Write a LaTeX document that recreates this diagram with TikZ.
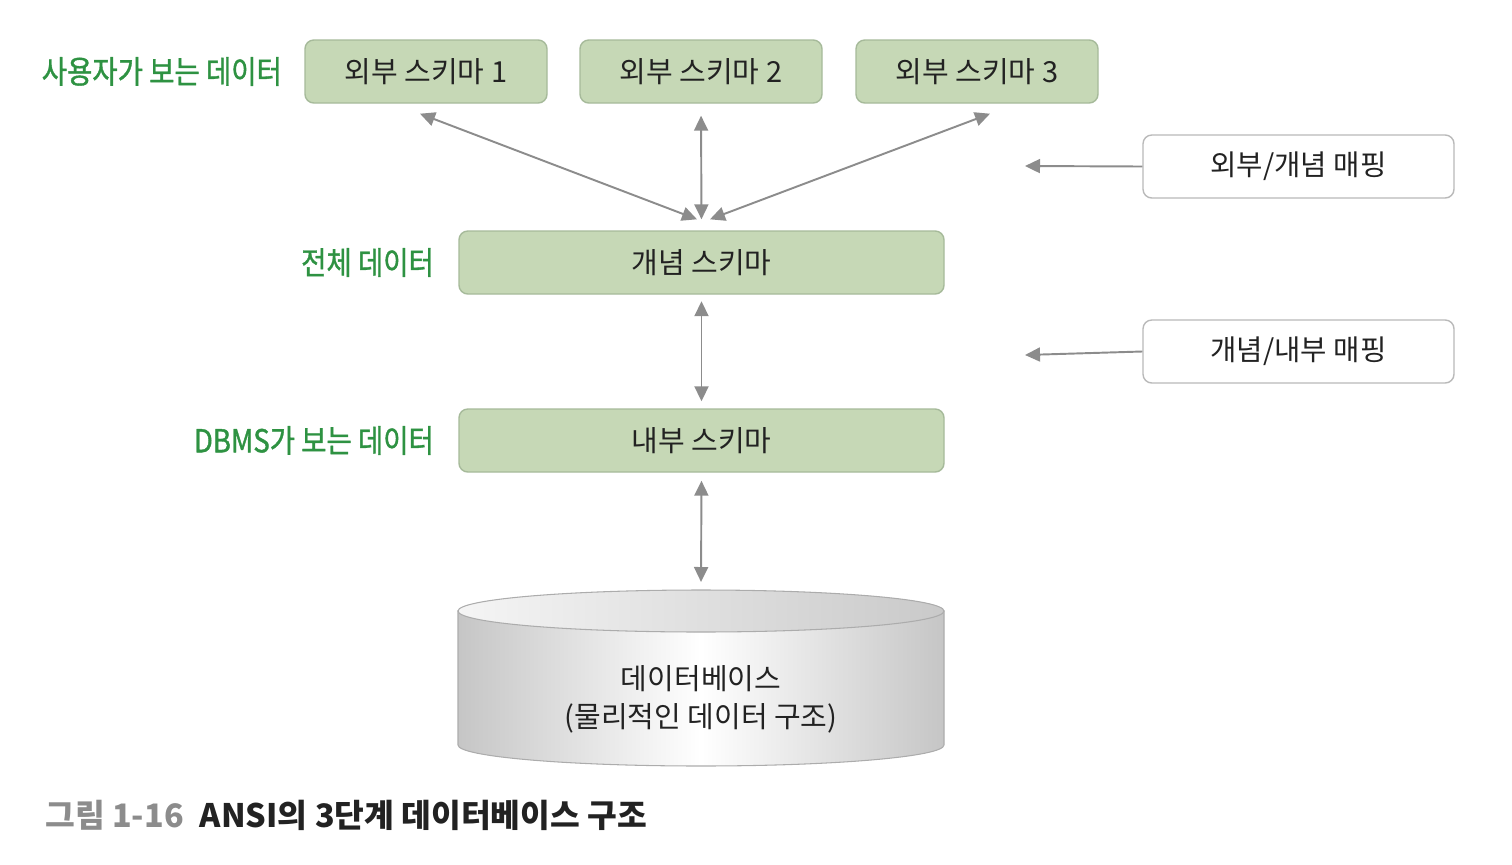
\documentclass[tikz,border=0pt]{standalone}
\usepackage{fontspec}
\setmainfont{Noto Sans CJK KR}
\newfontfamily\labfont[FakeStretch=0.87,FakeBold=1.2]{Noto Sans CJK KR}
\usetikzlibrary{arrows.meta,positioning}
\definecolor{schemafill}{RGB}{198,216,182}
\definecolor{schemaline}{RGB}{166,186,154}
\definecolor{labgreen}{RGB}{46,146,66}
\definecolor{arrowgray}{RGB}{140,140,140}
\definecolor{txtdark}{RGB}{34,34,34}

\begin{document}
\begin{tikzpicture}[
  schema/.style={draw=schemaline, fill=schemafill, rounded corners=5pt, line width=0.8pt,
    minimum height=1.26cm, text=txtdark, font=\fontsize{16.5}{19}\selectfont},
  mapbox/.style={draw=gray!55, fill=white, rounded corners=5pt, line width=0.8pt,
    minimum width=6.22cm, minimum height=1.26cm, text=txtdark, font=\fontsize{16.3}{19}\selectfont},
  lab/.style={text=labgreen, font=\labfont\fontsize{18}{21}\selectfont, inner sep=0pt},
  link/.style={{Triangle[length=3mm,width=2.8mm]}-{Triangle[length=3mm,width=2.8mm]},
    draw=arrowgray, fill=arrowgray, line width=1.1pt},
  maplink/.style={-{Triangle[length=3mm,width=2.8mm]}, draw=arrowgray, fill=arrowgray, line width=1.1pt}
]
\useasboundingbox (0,0) rectangle (30.24,-17.28);

\node[schema, minimum width=4.84cm] (ext1) at (8.52,-1.43)  {외부 스키마 1};
\node[schema, minimum width=4.84cm] (ext2) at (14.02,-1.43) {외부 스키마 2};
\node[schema, minimum width=4.84cm] (ext3) at (19.54,-1.43) {외부 스키마 3};
\node[schema, minimum width=9.7cm] (concept)  at (14.03,-5.25) {개념 스키마};
\node[schema, minimum width=9.7cm] (internal) at (14.03,-8.81) {내부 스키마};

\node[lab, left=0.44cm of ext1]     (userview) {사용자가 보는 데이터};
\node[lab, left=0.48cm of concept]  (wholeview) {전체 데이터};
\node[lab, left=0.48cm of internal] (dbmsview) {DBMS가 보는 데이터};

\node[mapbox] (extmap) at (25.97,-3.33) {외부/개념 매핑};
\node[mapbox] (intmap) at (25.97,-7.03) {개념/내부 매핑};
\coordinate (extmapend) at (20.5,-3.32);
\coordinate (intmapend) at (20.5,-7.1);

% database cylinder
\draw[gray!65, line width=0.6pt, left color=gray!45, right color=gray!45, middle color=white]
  (9.16,-12.22) -- (9.16,-14.9) arc[start angle=180, end angle=360, x radius=4.86, y radius=0.42]
  -- (18.88,-12.22) -- cycle;
\draw[gray!65, line width=0.6pt, left color=gray!8, right color=gray!42]
  (14.02,-12.22) ellipse[x radius=4.86, y radius=0.42];
\coordinate (dbtop) at (14.02,-11.8);
\node[align=center, text=txtdark, font=\fontsize{16.5}{21.5}\selectfont] (db) at (14.02,-13.99)
  {데이터베이스\\(물리적인 데이터 구조)};

\draw[link] ([xshift=-0.12cm,yshift=-0.2cm]ext1.south) -- ([xshift=-0.09cm,yshift=0.22cm]concept.north);
\draw[link, shorten <=0.24cm, shorten >=0.22cm] (ext2.south) -- (concept.north);
\draw[link] ([xshift=0.26cm,yshift=-0.2cm]ext3.south) -- ([xshift=0.17cm,yshift=0.22cm]concept.north);
\draw[link, shorten <=0.13cm, shorten >=0.14cm] (concept.south) -- (internal.north);
\draw[link, shorten <=0.16cm, shorten >=0.16cm] (internal.south) -- (dbtop);
\draw[maplink] (extmap.west) -- (extmapend);
\draw[maplink] (intmap.west) -- (intmapend);

\node[anchor=west, inner sep=0pt, font=\bfseries\fontsize{18.4}{21}\selectfont] (caption) at (0.9,-16.3)
  {\textcolor{gray!90}{그림 1-16}\hspace{0.5em}\textcolor{txtdark}{ANSI의 3단계 데이터베이스 구조}};
\end{tikzpicture}
\end{document}
